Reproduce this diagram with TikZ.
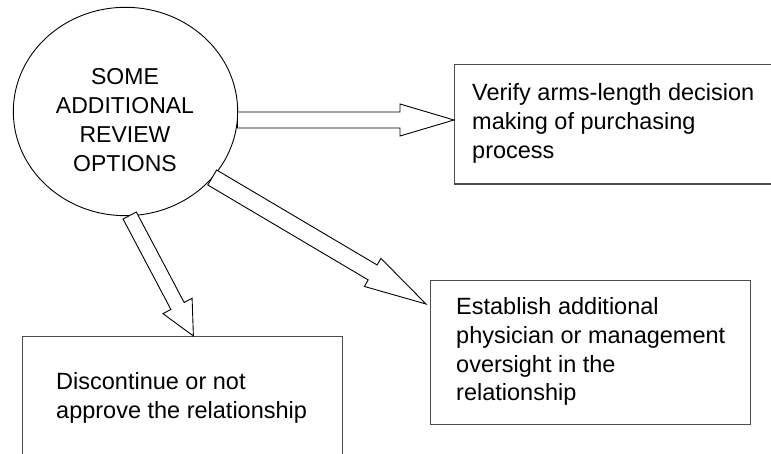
\documentclass[tikz,border=0pt]{standalone}
\usepackage{fontspec}
\setmainfont{Liberation Sans}
\usetikzlibrary{calc,shapes.geometric}
\tikzset{
  boxframe/.style={draw=black!70, line width=1.2pt, rectangle, inner sep=0pt, anchor=north west},
  circframe/.style={draw=black, line width=0.9pt, ellipse, inner sep=0pt},
  arrline/.style={draw=black, line width=0.9pt, fill=white, line join=miter},
  txt/.style={inner sep=0pt, align=left, anchor=north west, font=\fontsize{23.5}{28.7}\selectfont},
  ctxt/.style={inner sep=0pt, align=center, font=\fontsize{23}{29}\selectfont},
}
\newcommand\blockarr[5]{%
  \coordinate (bah) at ($(#2)!#5!(#1)$);
  \draw[arrline] ($(#1)!#3!90:(#2)$) -- ($(bah)!#3!90:(#2)$) -- ($(bah)!#4!90:(#2)$) -- (#2)
    -- ($(bah)!#4!-90:(#2)$) -- ($(bah)!#3!-90:(#2)$) -- ($(#1)!#3!-90:(#2)$) -- cycle;
}
\begin{document}
\begin{tikzpicture}[x=1pt,y=-1pt]
\useasboundingbox (0,0) rectangle (771,454);
\clip (0,0) rectangle (771,454);
% circle
\node[circframe, minimum width=224.4pt, minimum height=208.4pt] (c) at (125.5,111.5) {};
\node[ctxt] (ct) at (125,120.5) {SOME\\ADDITIONAL\\REVIEW\\OPTIONS};
% boxes
\node[boxframe, minimum width=335pt, minimum height=119.5pt] (v) at (454,64) {};
\node[boxframe, minimum width=320pt, minimum height=144pt] (e) at (430,280) {};
\node[boxframe, minimum width=320pt, minimum height=140pt] (d) at (22,336) {};
% texts
\node[txt] (vt) at ($(v.north west)+(18,19.5)$) {Verify arms-length decision\\making of purchasing\\process};
\node[txt] (et) at ($(e.north west)+(26,17.5)$) {Establish additional\\physician or management\\oversight in the\\relationship};
\node[txt] (dt) at ($(d.north west)+(34,36.5)$) {Discontinue or not\\approve the relationship};
% arrow end points
\coordinate (s1) at (237.5,120);
\coordinate (t1) at (v.west |- s1);
\coordinate (s2) at (212.2,177.5);
\coordinate (t2) at (426,304);
\coordinate (s3) at (129.7,215.5);
\coordinate (t3) at (d.north -| 193.4,0);
\blockarr{s1}{t1}{8pt}{16pt}{54pt}
\blockarr{s2}{t2}{8.7pt}{16.3pt}{62pt}
\blockarr{s3}{t3}{7.5pt}{16.5pt}{34pt}
\end{tikzpicture}
\end{document}
